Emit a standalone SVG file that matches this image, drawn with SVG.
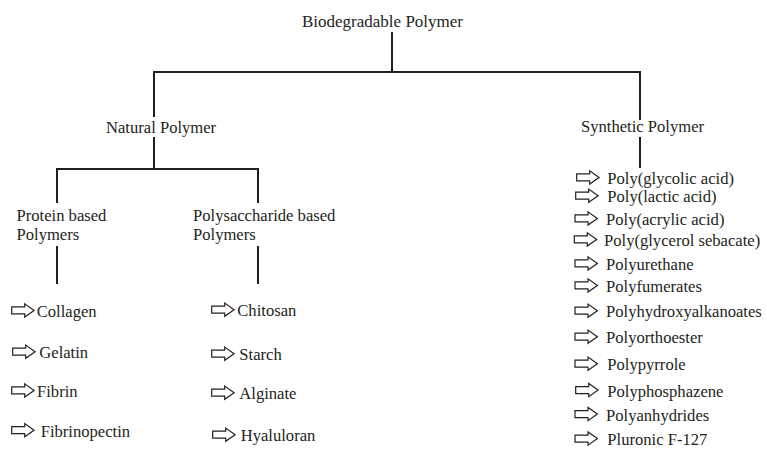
<svg xmlns="http://www.w3.org/2000/svg" xmlns:xlink="http://www.w3.org/1999/xlink" width="767" height="450" viewBox="0 0 767 450">
  <style>
    text { font-family: 'Liberation Serif', 'Times New Roman', serif; font-size: 16.6px; fill: #231f20; }
    .title { font-size: 17px; }
    .link { fill: none; stroke: #231f20; stroke-width: 2; }
    .arr { fill: #fff; stroke: #231f20; stroke-width: 1.2; stroke-linejoin: miter; }
  </style>
  <defs>
    <!-- hollow block arrow, origin at left middle -->
    <path id="arrow" class="arr" d="M0,-3.5 H13 V-6.6 L22.4,0 L13,6.6 V3.5 H0 Z"/>
  </defs>
  <rect width="767" height="450" fill="#fff"/>

  <g id="connectors">
    <path class="link" d="M392,32 V72"/>
    <path class="link" d="M153,72 H641"/>
    <path class="link" d="M154,72 V117 M154,137 V169"/>
    <path class="link" d="M56,169 H259"/>
    <path class="link" d="M57,169 V203 M258,169 V203"/>
    <path class="link" d="M57,246 V284 M258,246 V284"/>
    <path class="link" d="M640,72 V120 M640,137 V168"/>
  </g>

  <g id="root"><text class="title" x="302" y="27">Biodegradable Polymer</text></g>
  <g id="natural"><text x="106" y="133">Natural Polymer</text></g>
  <g id="synthetic"><text x="581" y="132">Synthetic Polymer</text></g>
  <g id="protein">
    <text x="16.5" y="221">Protein based</text>
    <text x="16.5" y="240">Polymers</text>
  </g>
  <g id="polysaccharide">
    <text x="193" y="221">Polysaccharide based</text>
    <text x="193" y="240">Polymers</text>
  </g>

  <g id="protein-list">
    <use xlink:href="#arrow" x="11.7" y="310.4"/><text x="36.7" y="316.7">Collagen</text>
    <use xlink:href="#arrow" x="12.7" y="351.7"/><text x="39.3" y="358">Gelatin</text>
    <use xlink:href="#arrow" x="11.7" y="390.4"/><text x="37" y="396.7">Fibrin</text>
    <use xlink:href="#arrow" x="11.7" y="430.2"/><text x="40.7" y="436.5">Fibrinopectin</text>
  </g>

  <g id="polysaccharide-list">
    <use xlink:href="#arrow" x="211.7" y="309.7"/><text x="237.3" y="316">Chitosan</text>
    <use xlink:href="#arrow" x="211.7" y="353.7"/><text x="239.3" y="360">Starch</text>
    <use xlink:href="#arrow" x="211.7" y="392.7"/><text x="239.3" y="399">Alginate</text>
    <use xlink:href="#arrow" x="212.7" y="434.7"/><text x="240.7" y="441">Hyaluloran</text>
  </g>

  <g id="synthetic-list">
    <use xlink:href="#arrow" x="576.7" y="177.4"/><text x="607.3" y="184">Poly(glycolic acid)</text>
    <use xlink:href="#arrow" x="575.7" y="195.7"/><text x="607.3" y="202.3">Poly(lactic acid)</text>
    <use xlink:href="#arrow" x="575" y="218.4"/><text x="606" y="225">Poly(acrylic acid)</text>
    <use xlink:href="#arrow" x="574.3" y="239.4"/><text x="604" y="246">Poly(glycerol sebacate)</text>
    <use xlink:href="#arrow" x="575" y="263.4"/><text x="606" y="270">Polyurethane</text>
    <use xlink:href="#arrow" x="575" y="285.4"/><text x="606" y="292">Polyfumerates</text>
    <use xlink:href="#arrow" x="575" y="310.7"/><text x="606" y="317.3">Polyhydroxyalkanoates</text>
    <use xlink:href="#arrow" x="575" y="336.7"/><text x="606" y="343.3">Polyorthoester</text>
    <use xlink:href="#arrow" x="575" y="363.7"/><text x="607.3" y="370.3">Polypyrrole</text>
    <use xlink:href="#arrow" x="575.7" y="390.1"/><text x="607.3" y="396.7">Polyphosphazene</text>
    <use xlink:href="#arrow" x="575" y="414.1"/><text x="606" y="420.7">Polyanhydrides</text>
    <use xlink:href="#arrow" x="575" y="438.6"/><text x="607.3" y="445.2">Pluronic F-127</text>
  </g>
</svg>
